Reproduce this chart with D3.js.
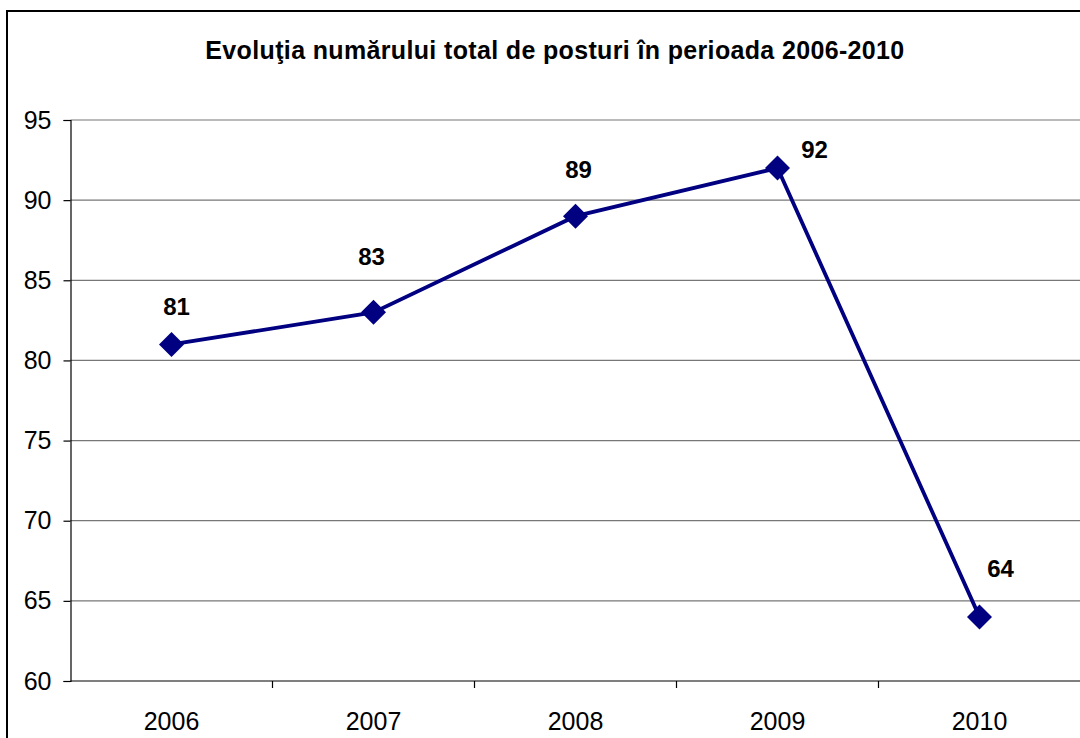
<!DOCTYPE html>
<html><head><meta charset="utf-8">
<script src="https://cdn.jsdelivr.net/npm/d3@7"></script>
<style>body{margin:0;background:#fff}svg{display:block}</style>
</head><body>
<svg id="c" width="1080" height="738"></svg>
<script>
const title = "Evoluţia numărului total de posturi în perioada 2006-2010";
const years = ["2006","2007","2008","2009","2010"];
const values = [81, 83, 89, 92, 64];
const yTicks = [60, 65, 70, 75, 80, 85, 90, 95];

(function(){
const svg = d3.select("#c");
const W = 1080;
const mLeft = 70.5, mTop = 120, mBottom = 681, bandW = 202;
const FONT = "Arial, 'Liberation Sans', sans-serif";

svg.append("rect").attr("x", 7).attr("y", 11).attr("width", 1100).attr("height", 800)
  .attr("fill", "#fff").attr("stroke", "#000").attr("stroke-width", 2);

svg.append("text").attr("x", 555).attr("y", 59).attr("text-anchor", "middle")
  .attr("font-family", FONT).attr("font-weight", "bold")
  .attr("font-size", 25).attr("letter-spacing", 0.35).text(title);

const x = d3.scaleBand().domain(years).range([mLeft, mLeft + bandW * years.length]);
const y = d3.scaleLinear().domain([60, 95]).range([mBottom, mTop]);

// gridlines
svg.append("g").selectAll("line").data(yTicks.filter(d => d > 60)).join("line")
  .attr("x1", mLeft).attr("x2", W).attr("y1", d => y(d)).attr("y2", d => y(d))
  .attr("stroke", "#777").attr("stroke-width", 1.2);

// y axis
const ya = svg.append("g").attr("transform", `translate(${mLeft},0)`)
  .call(d3.axisLeft(y).tickValues(yTicks).tickSize(7).tickPadding(12).tickFormat(d3.format("d")));
ya.select(".domain").attr("stroke", "#000").attr("stroke-width", 1.2);
ya.selectAll(".tick line").attr("stroke", "#000").attr("stroke-width", 1.2);
ya.selectAll("text").attr("font-family", FONT).attr("font-size", 25).attr("fill", "#000");

// x axis
const xa = svg.append("g").attr("transform", `translate(0,${mBottom})`)
  .call(d3.axisBottom(x).tickSize(0).tickPadding(31));
xa.select(".domain").remove();
svg.append("line").attr("x1", mLeft).attr("x2", W).attr("y1", mBottom).attr("y2", mBottom)
  .attr("stroke", "#000").attr("stroke-width", 1.2);
svg.append("g").selectAll("line").data(years.slice(1)).join("line")
  .attr("x1", d => x(d)).attr("x2", d => x(d)).attr("y1", mBottom).attr("y2", mBottom + 7)
  .attr("stroke", "#000").attr("stroke-width", 1.2);
xa.selectAll("text").attr("font-family", FONT).attr("font-size", 25).attr("fill", "#000");

const cx = d => x(d) + x.bandwidth() / 2;

// line
svg.append("path").datum(values)
  .attr("d", d3.line().x((d, i) => cx(years[i])).y(d => y(d)))
  .attr("fill", "none").attr("stroke", "#000080").attr("stroke-width", 3.8);

// markers
svg.append("g").selectAll("path").data(values).join("path")
  .attr("transform", (d, i) => `translate(${cx(years[i])},${y(d)})`)
  .attr("d", "M0,-12.5L12.5,0L0,12.5L-12.5,0Z")
  .attr("fill", "#000080");

// data labels
const dx = [5, -2, 3, 37, 21];
const dyOff = [-29, -47, -38, -10, -40];
svg.append("g").selectAll("text").data(values).join("text")
  .attr("x", (d, i) => cx(years[i]) + dx[i]).attr("y", (d, i) => y(d) + dyOff[i])
  .attr("text-anchor", "middle")
  .attr("font-family", FONT).attr("font-weight", "bold")
  .attr("font-size", 24).attr("fill", "#000").text(d => d);
})();
</script>
</body></html>
